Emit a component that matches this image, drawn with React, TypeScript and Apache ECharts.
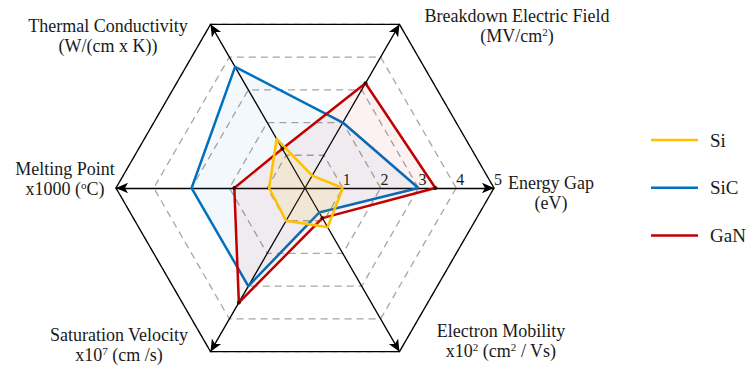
import React, { useEffect, useRef } from "react";
import * as echarts from "echarts";

// Radar axes, counter-clockwise starting from the right-hand (0°) spoke
const axisNames = [
  "Energy Gap",
  "Breakdown Electric Field",
  "Thermal Conductivity",
  "Melting Point",
  "Saturation Velocity",
  "Electron Mobility",
];
const axisMax = 5;

// Material properties, one value per axis (same order as axisNames)
const materials = ["Si", "SiC", "GaN"];
const siValues = [1.0, 0.38, 1.5, 0.95, 1.0, 1.2];
const sicValues = [3.0, 2.0, 3.7, 3.0, 3.0, 0.75];
const ganValues = [3.45, 3.2, 1.2, 1.87, 3.5, 0.92];

// Axis titles with units ({s|..} marks superscript)
const axisTitles = [
  "Energy Gap\n(eV)",
  "Breakdown Electric Field\n(MV/cm{s|2})",
  "Thermal Conductivity\n(W/(cm x K))",
  "Melting Point\nx1000 ({s|o}C)",
  "Saturation Velocity\nx10{s|7} (cm /s)",
  "Electron Mobility\nx10{s|2} (cm{s|2} / Vs)",
];

const FONT = '"Liberation Serif", "DejaVu Serif", serif';
const TEXT = "#1a1a1a";
const COLORS: Record<string, string> = { Si: "#FFC000", SiC: "#0070C0", GaN: "#C00000" };

const CENTER: [number, number] = [305, 188];
const RADIUS = 189;

// Title anchor points (top centre of each two-line block)
const titlePos: [number, number][] = [
  [551, 173],
  [517, 6],
  [108, 16],
  [65, 159],
  [119, 325],
  [501, 321],
];

export default function App() {
  const ref = useRef<HTMLDivElement>(null);

  useEffect(() => {
    if (!ref.current) return;
    const chart = echarts.init(ref.current, undefined, { renderer: "svg" });

    const indicator = axisNames.map((name, i) =>
      i === 0
        ? { name, min: 0, max: axisMax, axisLabel: { show: true } }
        : { name, min: 0, max: axisMax }
    );

    const series = [
      { name: "SiC", value: sicValues, dots: false },
      { name: "GaN", value: ganValues, dots: true },
      { name: "Si", value: siValues, dots: false },
    ].map((d) => ({
      name: d.name,
      value: d.value,
      symbol: d.dots ? "circle" : "none",
      symbolSize: 4,
      itemStyle: { color: d.dots ? "#3a0a0a" : COLORS[d.name] },
      lineStyle: { color: COLORS[d.name], width: 2.5 },
      areaStyle: { color: COLORS[d.name], opacity: d.name === "Si" ? 0.1 : 0.05 },
    }));

    chart.setOption({
      animation: false,
      backgroundColor: "#ffffff",
      legend: {
        orient: "vertical",
        left: 651,
        top: 129,
        padding: 0,
        itemGap: 25.7,
        itemWidth: 47,
        itemHeight: 2.5,
        icon: "rect",
        selectedMode: false,
        data: materials.map((m) => ({ name: m, itemStyle: { color: COLORS[m] } })),
        textStyle: {
          fontFamily: FONT,
          fontSize: 19,
          color: TEXT,
          lineHeight: 22,
          padding: [0, 0, 0, 7],
        },
      },
      radar: [
        {
          center: CENTER,
          radius: RADIUS,
          startAngle: 0,
          shape: "polygon",
          splitNumber: 5,
          indicator,
          axisName: { show: false },
          axisLine: {
            show: true,
            symbol: ["none", "arrow"],
            symbolSize: [8, 12],
            lineStyle: { color: "#000000", width: 1.3 },
          },
          axisTick: { show: false },
          axisLabel: {
            show: false,
            fontFamily: FONT,
            fontSize: 16,
            color: TEXT,
            margin: 1,
            align: "left",
            verticalAlign: "bottom",
            formatter: (v: number) => (v === 0 ? "" : String(v)),
          },
          splitLine: {
            show: true,
            lineStyle: { color: "#a6a6a6", width: 1.3, type: [7, 5] },
          },
          splitArea: { show: false },
        },
        {
          // solid outer frame
          center: CENTER,
          radius: RADIUS,
          startAngle: 0,
          shape: "polygon",
          splitNumber: 1,
          indicator: axisNames.map((name) => ({ name, min: 0, max: axisMax })),
          axisName: { show: false },
          axisLine: { show: false },
          axisTick: { show: false },
          axisLabel: { show: false },
          splitLine: { show: true, lineStyle: { color: "#000000", width: 1.3 } },
          splitArea: { show: false },
        },
      ],
      series: [
        {
          type: "radar",
          radarIndex: 0,
          z: 5,
          data: series,
        },
      ],
      graphic: axisTitles.map((t, i) => ({
        type: "text",
        x: titlePos[i][0],
        y: titlePos[i][1],
        silent: true,
        style: {
          text: t,
          fill: TEXT,
          fontFamily: FONT,
          fontSize: 18,
          lineHeight: 20,
          align: "center",
          verticalAlign: "top",
          rich: {
            s: {
              fontFamily: FONT,
              fontSize: 11,
              lineHeight: 12,
              verticalAlign: "top",
              fill: TEXT,
            },
          },
        },
      })),
    });

    return () => chart.dispose();
  }, []);

  return (
    <div
      ref={ref}
      style={{ position: "fixed", left: 0, top: 0, width: 750, height: 370 }}
    />
  );
}
